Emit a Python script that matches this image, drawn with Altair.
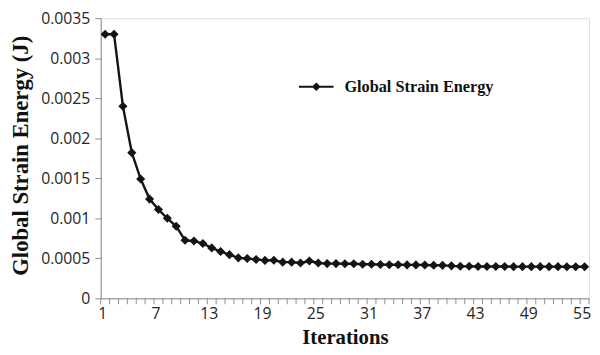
import altair as alt
import pandas as pd

iterations = list(range(1, 56))
energy = [0.00330, 0.00330, 0.00240, 0.00182, 0.00149, 0.00124, 0.00111, 0.00100, 0.00090, 0.000725,
          0.000717, 0.000685, 0.00063, 0.000585, 0.000546, 0.000506, 0.000498, 0.000486, 0.000474, 0.000476,
          0.000452, 0.000452, 0.000442, 0.000466, 0.000442, 0.000434, 0.000434, 0.000432, 0.000432, 0.000426,
          0.000426, 0.000422, 0.00042, 0.00042, 0.000418, 0.000418, 0.000416, 0.000414, 0.000412, 0.000406,
          0.0004, 0.0004, 0.000398, 0.000398, 0.000398, 0.000398, 0.000396, 0.000396, 0.000396, 0.000396,
          0.000396, 0.000396, 0.000395, 0.000395, 0.000395]
series_name = "Global Strain Energy"
x_labels = [1, 7, 13, 19, 25, 31, 37, 43, 49, 55]
y_ticks = [0, 0.0005, 0.001, 0.0015, 0.002, 0.0025, 0.003, 0.0035]
boundaries = [i + 0.5 for i in range(0, 56)]

df = pd.DataFrame({"iter": iterations, "energy": energy, "series": series_name})
tick_df = pd.DataFrame({"iter": boundaries})

W, H = 495, 284
AXIS_GREY = "#8c8c8c"
INK = "#141414"
LABEL = "#262626"

xscale = alt.Scale(domain=[0.5, 55.5], nice=False, zero=False)
yscale = alt.Scale(domain=[0, 0.0035], nice=False)

x_enc = alt.X("iter:Q", scale=xscale,
              axis=alt.Axis(values=x_labels, title="Iterations", ticks=False, grid=False,
                            domainColor=AXIS_GREY, domainWidth=1,
                            labelFont="Open Sans", labelFontSize=16, labelColor=LABEL,
                            labelPadding=7, labelOffset=-3,
                            titleFont="Liberation Serif", titleFontWeight="bold", titleFontSize=21,
                            titleColor="#111111", titleY=46, titleBaseline="alphabetic"))
y_enc = alt.Y("energy:Q", scale=yscale,
              axis=alt.Axis(values=y_ticks, format="~g", title="Global Strain Energy (J)", grid=False,
                            domainColor=AXIS_GREY, tickColor=AXIS_GREY, tickSize=6, labelPadding=5,
                            labelFont="Open Sans", labelFontSize=16, labelColor=LABEL,
                            titleFont="Liberation Serif", titleFontWeight="bold", titleFontSize=23,
                            titleColor="#111111", titleX=-81, titleY=139, titleAngle=-90,
                            titleAlign="center", titleBaseline="middle"))

minor = alt.Chart(tick_df).mark_rule(color=AXIS_GREY, strokeWidth=1).encode(
    x=alt.X("iter:Q", scale=xscale), y=alt.value(H), y2=alt.value(H + 6))

line = alt.Chart(df).mark_line(color=INK, strokeWidth=2.4).encode(x=x_enc, y=y_enc)

legend_path = "M-1,0H1M0,-0.17L0.17,0L0,0.17L-0.17,0Z"
points = alt.Chart(df).mark_point(shape="diamond", filled=True, size=85, opacity=1).encode(
    x=alt.X("iter:Q", scale=xscale),
    y=alt.Y("energy:Q", scale=yscale),
    color=alt.Color("series:N", scale=alt.Scale(range=[INK]),
                    legend=alt.Legend(orient="none", legendX=200, legendY=51, title=None,
                                      symbolType=legend_path, symbolSize=1225,
                                      symbolStrokeWidth=2, symbolStrokeColor=INK, symbolFillColor=INK,
                                      labelFont="Liberation Serif", labelFontWeight="bold",
                                      labelFontSize=16.5, labelColor="#111111", labelOffset=10,
                                      labelLimit=300)))

chart = alt.layer(line, minor, points).properties(
    width=W, height=H,
    autosize=alt.AutoSizeParams(type="none"),
    padding={"left": 94, "top": 8, "right": 3, "bottom": 47},
).configure_view(stroke=None).configure(background="white")

chart.save("out.html", embed_options={"renderer": "svg", "actions": False})
